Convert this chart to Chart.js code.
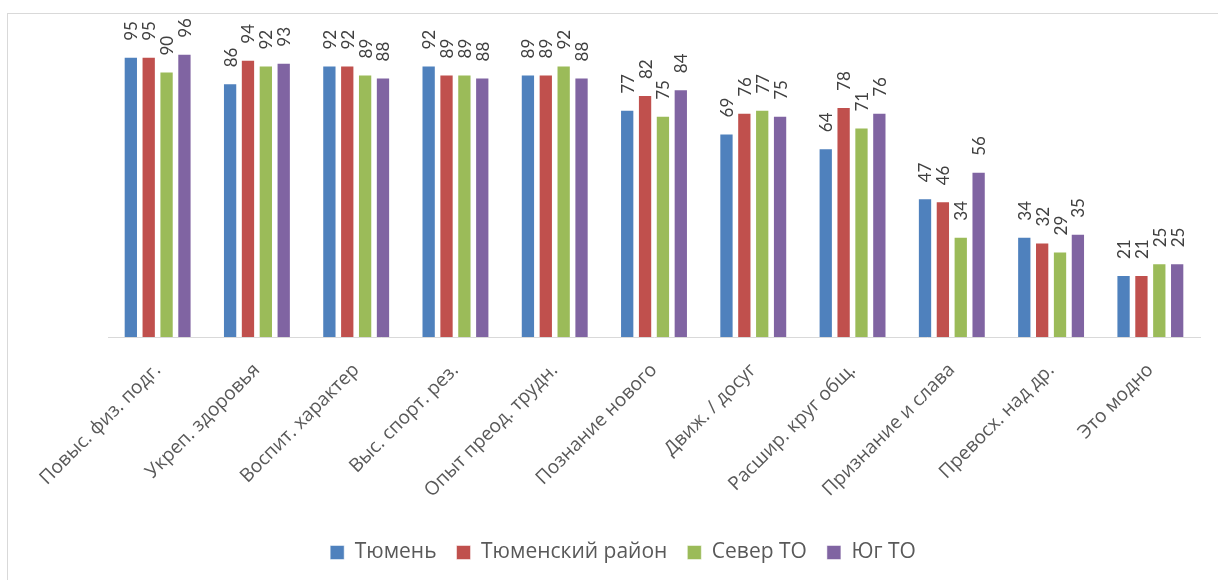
<!DOCTYPE html>
<html>
<head>
<meta charset="utf-8">
<script src="https://cdn.jsdelivr.net/npm/chart.js@4.4.0/dist/chart.umd.min.js"></script>
<style>
  html, body { margin: 0; padding: 0; background: #fff; overflow: hidden; }
  #frame { position: absolute; left: 7px; top: 13px; width: 1300px; height: 700px; border: 1px solid #d9d9d9; }
  #wrap { position: absolute; left: 0; top: 0; width: 1218px; height: 580px; }
</style>
</head>
<body>
<div id="frame"></div>
<div id="wrap"><canvas id="chart"></canvas></div>
<script>
const categories = ['Повыс. физ. подг.', 'Укреп. здоровья', 'Воспит. характер', 'Выс. спорт. рез.', 'Опыт преод. трудн.',
    'Познание нового', 'Движ. / досуг', 'Расшир. круг общ.', 'Признание и слава', 'Превосх. над др.', 'Это модно'];
const seriesNames = ['Тюмень', 'Тюменский район', 'Север ТО', 'Юг ТО'];
const tyumen = [95, 86, 92, 92, 89, 77, 69, 64, 47, 34, 21];
const tyumenDistrict = [95, 94, 92, 89, 89, 82, 76, 78, 46, 32, 21];
const north = [90, 92, 89, 89, 92, 75, 77, 71, 34, 29, 25];
const south = [96, 93, 88, 88, 88, 84, 75, 76, 56, 35, 25];
const colors = ['#4F81BD', '#C0504D', '#9BBB59', '#8064A2'];

const labelFont = '"Open Sans", Lato, sans-serif';
const valueFont = 'Lato, "Open Sans", sans-serif';

// value labels, rotated, above every bar
const barLabels = {
    id: 'barLabels',
    afterDatasetsDraw(chart) {
        const ctx = chart.ctx;
        ctx.save();
        ctx.fillStyle = '#404040';
        ctx.font = '17px ' + valueFont;
        ctx.textAlign = 'left';
        ctx.textBaseline = 'middle';
        chart.data.datasets.forEach((ds, i) => {
            chart.getDatasetMeta(i).data.forEach((bar, j) => {
                ctx.save();
                ctx.translate(bar.x + 1, bar.y - 16);
                ctx.rotate(-Math.PI / 2);
                ctx.fillText(String(ds.data[j]), 0, 0);
                ctx.restore();
            });
        });
        ctx.restore();
    }
};

// legend is centred on the whole chart, not on the plot area
const legendShift = {
    id: 'legendShift',
    afterLayout(chart) {
        chart.legend.left -= 31;
        chart.legend.right -= 31;
    }
};

const allSeries = [tyumen, tyumenDistrict, north, south];

new Chart(document.getElementById('chart'), {
    type: 'bar',
    data: {
        labels: categories,
        datasets: allSeries.map((d, i) => ({
            label: seriesNames[i],
            data: d,
            backgroundColor: colors[i],
            borderColor: 'rgba(255,255,255,0.5)',
            borderWidth: 1,
            categoryPercentage: 0.72,
            barPercentage: 0.8
        }))
    },
    options: {
        responsive: true,
        maintainAspectRatio: false,
        animation: false,
        layout: { padding: { top: 42, left: 108, right: 18, bottom: 7 } },
        plugins: {
            legend: {
                position: 'bottom',
                labels: {
                    color: '#595959',
                    font: { family: labelFont, size: 21 },
                    boxWidth: 14,
                    boxHeight: 14,
                    padding: 20
                }
            },
            tooltip: { enabled: false }
        },
        scales: {
            x: {
                grid: { display: false },
                border: { display: true, color: '#d9d9d9' },
                ticks: {
                    color: '#595959',
                    font: { family: labelFont, size: 19 },
                    minRotation: 45,
                    maxRotation: 45,
                    padding: 14
                },
                afterFit(scale) { scale.height += 6; }
            },
            y: {
                display: false,
                min: 0,
                max: 100
            }
        }
    },
    plugins: [barLabels, legendShift]
});
</script>
</body>
</html>
